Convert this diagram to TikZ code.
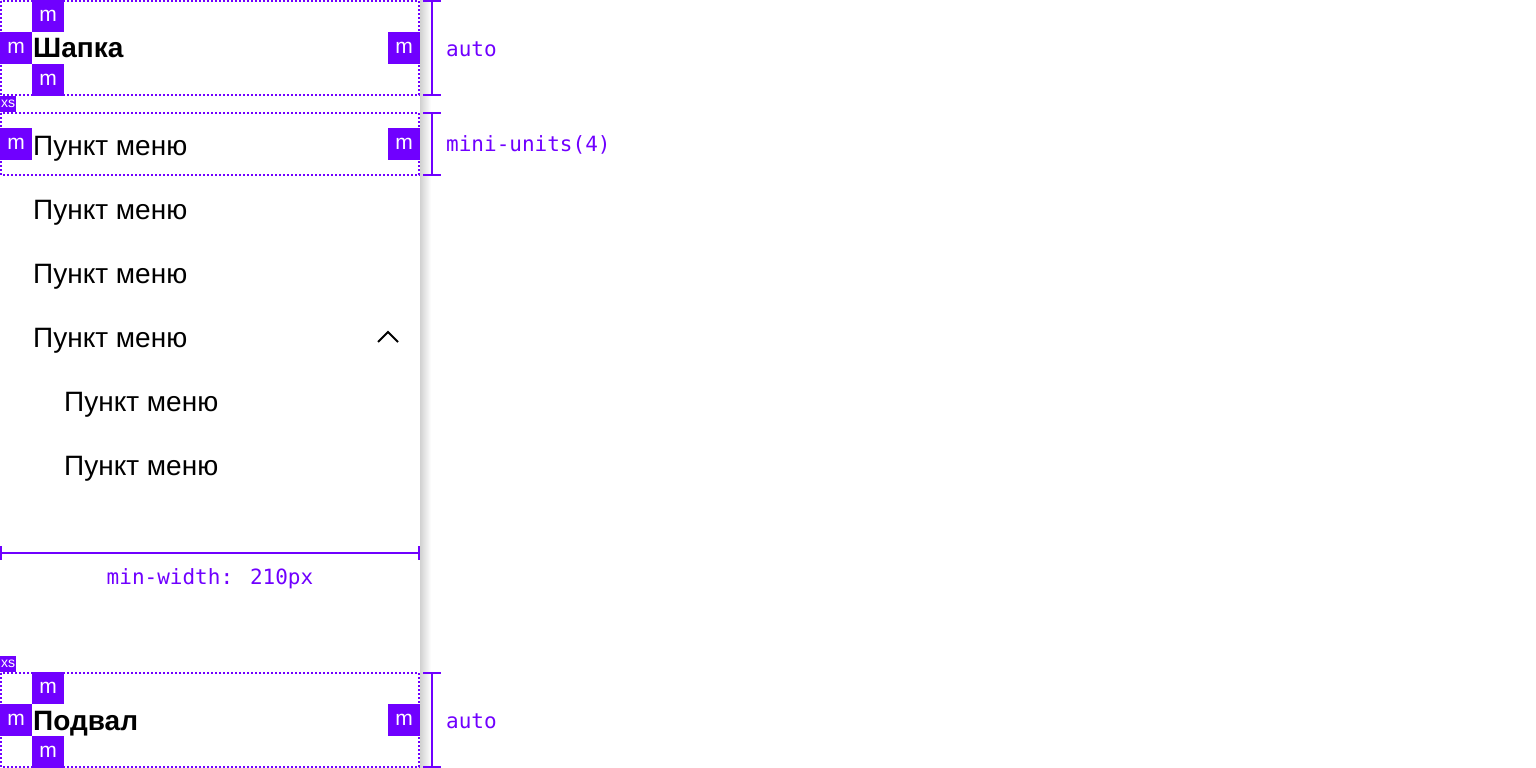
\documentclass[tikz,border=0pt]{standalone}
\usepackage{fontspec}
\setmainfont{Liberation Sans}
\newfontfamily\monof{DejaVu Sans Mono}
\definecolor{vio}{RGB}{112,0,255}
\tikzset{
  mbox/.style={fill=vio, text=white, minimum width=32pt, minimum height=32pt, inner sep=0pt, anchor=north west, font=\fontsize{21}{21}\selectfont},
  xsbox/.style={fill=vio, text=white, minimum width=16pt, minimum height=16pt, inner sep=0pt, anchor=north west, font=\fontsize{14}{14}\selectfont},
  dotbox/.style={draw=vio, line width=2pt, dash pattern=on 2pt off 2pt},
  item/.style={anchor=base west, inner sep=0pt, font=\fontsize{28}{28}\selectfont},
  bold/.style={anchor=base west, inner sep=0pt, font=\fontsize{28}{28}\selectfont\bfseries},
  dim/.style={draw=vio, line width=2pt},
  dimlabel/.style={anchor=west, inner sep=0pt, text=vio, font=\fontsize{21}{21}\monof},
}
\begin{document}
\begin{tikzpicture}[x=1pt,y=-1pt]
\useasboundingbox (0,0) rectangle (1536,768);
% panel shadow
\shade[left color=black!18, right color=white] (420,0) rectangle (431,768);
% header
\draw[dotbox] (1,1) rectangle (419,95);
\node[mbox] (ht) at (32,0) {m};
\node[mbox] (hl) at (0,32) {m};
\node[mbox] (hr) at (388,32) {m};
\node[mbox] (hb) at (32,64) {m};
\node[bold] (head) at (33,58) {Шапка};
\node[xsbox] (xs1) at (0,96) {xs};
% first item
\draw[dotbox] (1,113) rectangle (419,175);
\node[mbox] (il) at (0,128) {m};
\node[mbox] (ir) at (388,128) {m};
\node[item] (i1) at (33,155) {Пункт меню};
\node[item] (i2) at (33,219) {Пункт меню};
\node[item] (i3) at (33,283) {Пункт меню};
\node[item] (i4) at (33,347) {Пункт меню};
\node[item] (i5) at (64,411) {Пункт меню};
\node[item] (i6) at (64,475) {Пункт меню};
% chevron
\draw[line width=2pt, line join=miter] (378,342) -- (388,332) -- (398,342);
% width dimension
\coordinate (wl) at (1,553);
\coordinate (wr) at (419,553);
\draw[dim] (wl) -- (wr);
\draw[dim] (1,546) -- (1,560);
\draw[dim] (419,546) -- (419,560);
\node[dimlabel, anchor=center] (wlab) at (210,579) {min-width: 210px};
% footer
\node[xsbox] (xs2) at (0,656) {xs};
\draw[dotbox] (1,673) rectangle (419,767);
\node[mbox] (ft) at (32,672) {m};
\node[mbox] (fl) at (0,704) {m};
\node[mbox] (fr) at (388,704) {m};
\node[mbox] (fb) at (32,736) {m};
\node[bold] (foot) at (33,730) {Подвал};
% right dimensions
\draw[dim] (432,1) -- (432,95);
\draw[dim] (423,1) -- (441,1);
\draw[dim] (423,95) -- (441,95);
\node[dimlabel] (a1) at (446,49) {auto};
\draw[dim] (432,113) -- (432,175);
\draw[dim] (423,113) -- (441,113);
\draw[dim] (423,175) -- (441,175);
\node[dimlabel] (a2) at (446,145) {mini-units(4)};
\draw[dim] (432,673) -- (432,767);
\draw[dim] (423,673) -- (441,673);
\draw[dim] (423,767) -- (441,767);
\node[dimlabel] (a3) at (446,721) {auto};
\end{tikzpicture}
\end{document}
